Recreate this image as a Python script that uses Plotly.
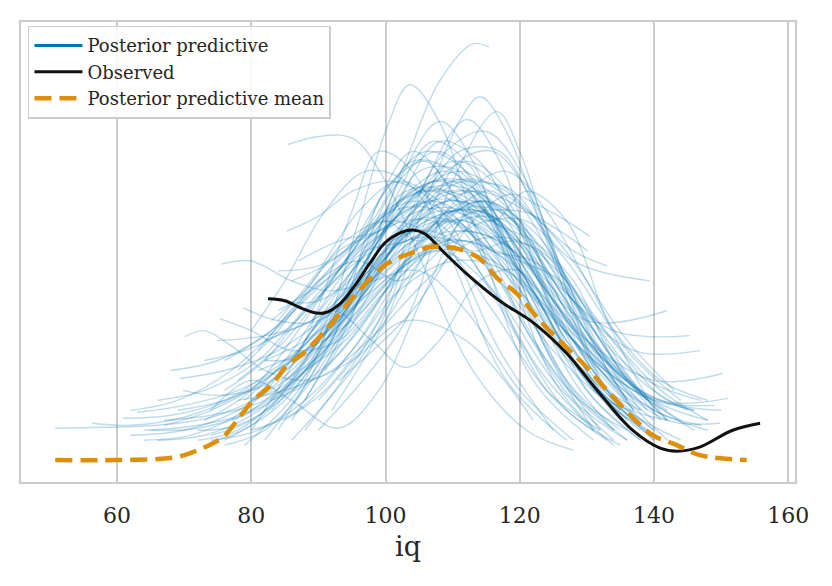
import plotly.graph_objects as go

WIDTH = 832
HEIGHT = 586

BLUE = "#0173B2"
ORANGE = "#DE8F05"
GRID = "#cccccc"
TEXT = "#262626"
FONT = "DejaVu Serif"

# observed KDE (iq, density x 1000)
obs_x = [82.5, 85.0, 87.3, 89.5, 91.0, 93.2, 95.4, 97.7, 99.9, 102.1, 104.1, 105.9,
         108.5, 112.1, 117.0, 122.0, 127.0, 131.9, 136.8, 140.9, 143.4, 146.8, 151.7, 155.8]
obs_y = [16.2, 16.0, 15.3, 14.8, 14.8, 15.7, 17.5, 19.8, 21.8, 22.8, 23.1, 22.7,
         21.0, 18.7, 16.0, 13.8, 10.7, 6.7, 3.0, 1.2, 0.9, 1.3, 3.0, 3.7]

# posterior predictive mean KDE
mean_x = [50.8, 60.0, 68.9, 72.4, 74.3, 75.8, 77.9, 80.3, 83.2, 85.3, 87.7, 91.3, 95.1,
          100.2, 104.7, 106.6, 110.3, 114.1, 116.6, 119.6, 123.0, 127.0, 130.0, 133.0,
          136.8, 139.8, 143.4, 146.8, 153.8]
mean_y = [0.0, 0.0, 0.3, 1.1, 1.7, 2.3, 4.0, 6.0, 7.7, 9.5, 10.7, 13.2, 16.3,
          19.7, 21.0, 21.4, 21.3, 20.2, 18.3, 16.7, 14.0, 11.3, 9.3, 7.0,
          4.3, 2.5, 1.5, 0.5, 0.0]

# posterior predictive draws, one list per draw
pp_x = [
    [76, 85, 95, 103, 108, 113, 115.4],
    [79, 88, 96, 100, 103.6, 108, 114, 122, 131],
    [86, 98, 106, 111, 114.1, 118, 124, 132, 140],
    [90, 103, 110, 116.6, 120, 123, 127, 133, 140],
    [84, 95, 102, 108.1, 113, 119, 126, 134],
    [88, 99, 106, 112.1, 117, 123, 130, 138],
    [85.5, 90, 95.1, 100, 106, 113, 121, 128],
    [80, 88, 95, 99, 104, 110, 118, 127],
    [82, 92, 99, 104, 109, 116, 124, 133],
    [93, 104, 113, 118.5, 123, 127, 130.4],
    [90, 100, 110, 120, 126, 130.1],
    [75.6, 80, 86, 92, 98, 105, 112, 120, 128],
    [70.1, 73, 77, 82, 88, 95, 103, 112, 122],
    [75.3, 80, 86, 93, 100, 108, 116, 125, 134],
    [50.8, 58, 66, 75, 85, 95, 104, 112, 120, 128, 136, 144],
    [56.3, 62, 70, 78, 88, 98, 107, 116, 124, 132, 140, 148],
    [60.9, 68, 76, 85, 95, 104, 112, 120, 130, 140, 150.2],
    [63, 70, 78, 88, 98, 106, 114, 122, 131, 141, 151],
    [69.8, 75, 82, 90, 100, 110, 118, 126, 134, 142, 149.8],
    [69.4, 76, 84, 92, 101, 109, 117, 125, 134, 145.3],
    [72, 78, 86, 95, 104, 112, 120, 128, 137, 146.8],
    [65, 72, 80, 89, 97, 105, 113, 121, 130, 141.9],
    [74, 80, 88, 96, 104, 112, 120, 128, 139.4],
    [78.8, 84, 90, 97, 105, 113, 121, 128, 133],
    [72, 78, 85, 92, 99, 106, 114, 122, 130, 138],
    [76, 82, 89, 96, 103, 110, 117, 125, 133, 141],
    [64, 71, 79, 87, 95, 103, 111, 120, 129, 139],
    [69, 76, 84, 92, 100, 108, 116, 124, 132, 140],
    [82, 88, 95, 102, 110, 118, 126, 134, 142],
    [84, 90, 96, 102, 108, 115, 122, 130, 138],
    [78, 85, 93, 100, 107, 114, 121, 128, 136],
    [62, 69, 77, 85, 93, 100, 108, 116, 124, 132],
    [67, 74, 82, 90, 98, 106, 114, 122, 130, 139],
    [62, 70, 78, 86, 94, 102, 110, 118, 126, 135],
    [80, 86, 92, 98, 103, 108, 114, 120, 127, 135],
    [74, 80, 86, 93, 99, 106, 113, 120, 128, 137],
    [85, 91, 97, 104, 111, 118, 125, 132, 140, 148],
    [88, 94, 100, 107, 114, 121, 128, 135, 142, 150],
    [66, 73, 81, 89, 97, 105, 113, 121, 129, 137],
    [80, 87, 95, 103, 111, 119, 126, 133, 140, 147],
    [76, 83, 90, 97, 104, 111, 118, 126, 134],
    [82, 89, 96, 103, 110, 117, 124, 131, 138, 146],
    [67, 74, 82, 90, 98, 106, 114, 122, 130, 138, 146],
    [75, 81, 88, 95, 102, 109, 116, 123, 131, 139],
    [83, 89, 96, 102, 108, 114, 120, 127, 135],
    [75, 82, 89, 96, 103, 110, 117, 125, 133, 142],
    [83, 89, 96, 103, 110, 117, 124, 131, 139, 147],
    [68, 75, 83, 91, 99, 107, 115, 123, 131],
    [86, 92, 98, 104, 110, 116, 122, 128, 134],
    [64, 72, 80, 88, 96, 104, 112, 120, 128, 137, 146],
    [86, 92, 98, 105, 112, 119, 126, 133, 141],
    [73, 80, 87, 94, 101, 108, 115, 122, 129, 136],
    [81, 88, 95, 102, 109, 116, 123, 131, 140, 149],
    [66, 73, 80, 88, 96, 104, 112, 120, 128, 136],
    [84, 91, 98, 105, 112, 119, 126, 134],
    [89, 95, 101, 107, 113, 119, 125, 131, 137],
    [74, 81, 88, 95, 102, 110, 118, 126, 135, 144],
    [91, 97, 103, 109, 115, 121, 127, 133],
    [78, 85, 92, 99, 106, 113, 120, 127, 134, 141, 148],
    [88, 96, 102, 107, 112, 118, 124, 131],
    [92, 100, 106, 111, 116, 122, 128, 135, 142],
    [86, 94, 100, 105, 111, 117, 124, 132],
    [85.3, 90, 95, 101, 107, 113, 120, 127, 135],
    [80, 85, 91, 97, 103, 110, 117, 125],
    [83, 88, 94, 100, 105, 110, 116, 122, 128, 135],
    [78, 84, 90, 96, 102, 108, 114, 120, 126, 133, 140],
    [86, 92, 98, 104, 110, 116, 122, 128, 134, 141],
    [90, 96, 101, 106, 111, 116, 121, 127, 133, 140],
    [81, 87, 93, 99, 104, 110, 116, 123, 130, 137],
    [84, 90, 96, 102, 108, 114, 120, 127, 134, 142],
    [88, 94, 100, 106, 112, 118, 124, 130, 136, 143],
    [79, 85, 91, 97, 103, 109, 115, 121, 128, 136],
    [93, 99, 105, 111, 117, 123, 129, 136, 144],
    [76, 82, 88, 94, 100, 106, 112, 118, 124, 131, 138],
    [87, 93, 99, 105, 111, 117, 123, 129, 136],
    [82, 88, 95, 101, 107, 113, 119, 125, 131, 138, 145],
    [94, 100, 106, 112, 118, 124, 130, 136],
    [85, 91, 97, 103, 109, 115, 121, 127, 134, 141, 148],
    [73, 79, 85, 91, 97, 103, 109, 115, 121, 128, 136],
    [89, 95, 101, 107, 113, 119, 125, 131, 138],
    [80, 86, 92, 98, 104, 110, 116, 122, 128, 135, 142],
    [91, 97, 103, 109, 115, 121, 127, 133, 139],
    [84, 90, 96, 102, 108, 114, 120, 126, 132, 139],
    [77, 83, 89, 95, 101, 107, 113, 119, 125, 132, 140],
]
pp_y = [
    [2, 6, 17, 30, 38, 41.8, 41.5],
    [1.5, 8, 24, 33, 37.7, 34, 22, 8, 2],
    [2, 12, 26, 34, 36.5, 33, 22, 8, 2],
    [3, 14, 28, 35, 31, 25, 17, 7, 2],
    [3, 16, 28, 34, 30, 18, 7, 1.5],
    [3, 14, 28, 34.2, 30, 18, 7, 2],
    [31.7, 32.5, 32.3, 28, 19, 9, 3, 1],
    [3, 12, 25, 31, 29, 20, 8, 2],
    [2, 12, 26, 31, 28, 18, 7, 2],
    [8, 15, 24, 26.7, 25.5, 24, 22.5],
    [6, 14, 24, 25, 23, 21],
    [19.7, 20, 18, 17, 18, 19, 15, 7, 2],
    [12.4, 13, 11.5, 9, 8, 10, 14, 12, 4],
    [14.2, 13, 11, 12, 17, 21, 17, 8, 2],
    [3.2, 3.3, 3.5, 4.5, 8, 15, 21, 22, 17, 10, 5, 2],
    [3.7, 3.5, 4.3, 6.5, 11, 17, 21, 20, 15, 9, 5, 3],
    [4.2, 4.5, 6, 10, 16, 23, 24, 19, 12, 8, 8.7],
    [4.8, 5.5, 7, 11, 18, 24, 25, 19, 11, 6, 6.2],
    [7, 6.5, 7.5, 12, 19, 25, 23, 15, 8, 4, 3.7],
    [8.2, 9, 11, 15, 21, 26, 24, 18, 13, 12.5],
    [3, 3.5, 7, 15, 24, 28, 24, 16, 11, 11],
    [3, 3.2, 5, 11, 20, 27, 27, 20, 14, 15],
    [2.5, 4, 9, 17, 25, 30, 26, 20, 18],
    [15.3, 14, 14, 18, 24, 27, 25, 21, 19.5],
    [2, 3, 7, 14, 22, 27, 25, 16, 7, 2],
    [1.5, 3, 8, 16, 24, 28, 25, 15, 6, 2],
    [2, 2.5, 5, 11, 19, 25, 26, 19, 9, 3],
    [5, 6, 8.5, 14, 21, 25, 23, 16, 8, 3],
    [10, 10.5, 15, 22, 28, 27, 19, 10, 4],
    [19, 19.5, 22, 26, 28, 25, 17, 8, 3],
    [8, 12, 19, 25, 27, 23, 15, 7, 2],
    [5, 6, 9, 14, 20, 24, 22, 15, 7, 3],
    [3.5, 5, 8, 13, 19, 24, 25, 20, 12, 6],
    [2.5, 3, 5, 9, 15, 21, 24, 19, 11, 5],
    [6, 10, 15, 12, 9.3, 12, 18, 19, 12, 5],
    [5, 8, 6, 3.2, 7, 17, 25, 22, 12, 5],
    [4, 7, 12, 19, 24, 24, 18, 11, 6, 4],
    [9, 12, 17, 23, 26, 23, 17, 11, 6, 5],
    [6, 7, 10, 16, 22, 27, 26, 18, 9, 4],
    [3, 5, 11, 19, 23, 21, 15, 9, 5, 3.5],
    [10, 13, 18, 23, 26, 24, 17, 8, 3],
    [12, 14, 17, 21, 23, 22, 18, 12, 7, 5],
    [4, 4.5, 6, 10, 16, 22, 26, 23, 15, 7, 3],
    [2, 4, 10, 19, 26, 29, 25, 16, 7, 3],
    [5, 10, 20, 28, 31, 27, 18, 8, 3],
    [12, 12.5, 14, 18, 22, 22, 18, 11, 6, 4],
    [6, 8, 13, 20, 25, 25, 20, 13, 8, 6],
    [9, 10, 13, 18, 23, 24, 18, 9, 3],
    [10, 15, 22, 27, 28, 24, 16, 8, 3],
    [3, 3.5, 5, 9, 15, 20, 22, 19, 12, 7, 5],
    [7, 10, 15, 22, 26, 24, 17, 10, 5],
    [4, 7, 13, 20, 25, 25, 20, 12, 6, 3],
    [9, 11, 14, 19, 22, 21, 16, 10, 6, 5.5],
    [2, 2.5, 4.5, 9, 16, 22, 24, 19, 10, 4],
    [15, 18, 22, 25, 25, 21, 13, 5],
    [13, 17, 22, 26, 27, 24, 18, 11, 5],
    [2, 3, 6, 11, 17, 20, 19, 14, 8, 4],
    [12, 17, 23, 26, 25, 20, 13, 7],
    [6, 7, 9, 13, 18, 22, 22, 18, 12, 7, 4],
    [6, 16, 27, 32, 30, 22, 11, 3],
    [5, 14, 24, 30, 31, 26, 16, 7, 2],
    [4, 13, 23, 29, 29, 22, 11, 3],
    [23, 24.5, 27, 28, 26, 20, 12, 5, 1.5],
    [13, 18, 25, 29, 28, 21, 11, 3],
    [14, 17, 22, 24, 22, 25, 27, 20, 10, 4],
    [9, 13, 18, 20, 18, 21, 26, 24, 15, 7, 3],
    [18, 20, 24, 30, 29, 24, 22, 18, 10, 4],
    [16, 22, 28, 30, 26, 24, 27, 24, 14, 5],
    [11, 16, 21, 23, 26, 30, 28, 20, 11, 5],
    [16, 16, 19, 26, 32, 30, 23, 15, 9, 5],
    [12, 17, 21, 23, 27, 29, 25, 18, 12, 7],
    [6, 10, 16, 22, 27, 27, 22, 17, 12, 6],
    [15, 22, 27, 29, 27, 24, 19, 11, 6],
    [7, 10, 15, 19, 22, 26, 27, 22, 14, 8, 5],
    [20, 22, 23, 26, 31, 31, 24, 14, 6],
    [10, 12, 16, 22, 23, 21, 22, 20, 14, 8, 5],
    [20, 27, 31, 29, 23, 17, 12, 8],
    [8, 11, 16, 20, 22, 24, 24, 20, 13, 8, 6],
    [10, 11, 13, 17, 21, 22, 24, 21, 13, 6, 2],
    [14, 19, 24, 28, 28, 27, 21, 12, 5],
    [6, 8, 13, 19, 24, 24, 21, 20, 16, 9, 4],
    [9, 16, 24, 31, 33, 28, 18, 10, 5],
    [14, 19, 25, 28, 26, 22, 20, 18, 12, 6],
    [4, 6, 11, 17, 24, 26, 24, 21, 16, 9, 4],
]

fig = go.Figure()

for xs, ys in zip(pp_x, pp_y):
    fig.add_trace(go.Scatter(
        x=xs, y=ys, mode="lines",
        line=dict(color=BLUE, width=1.4, shape="spline"),
        opacity=0.25, showlegend=False, hoverinfo="skip",
    ))

# legend entry for the draws (drawn at full opacity like matplotlib's legend)
fig.add_trace(go.Scatter(
    x=[None], y=[None], mode="lines", name="Posterior predictive",
    line=dict(color=BLUE, width=3),
))

fig.add_trace(go.Scatter(
    x=obs_x, y=obs_y, mode="lines", name="Observed",
    line=dict(color="#111111", width=3, shape="spline"),
))

fig.add_trace(go.Scatter(
    x=mean_x, y=mean_y, mode="lines", name="Posterior predictive mean",
    line=dict(color=ORANGE, width=4.5, dash="17px,8px", shape="spline"),
))

# the page body adds an 8px offset, margins are set to compensate
fig.update_layout(
    width=WIDTH,
    height=HEIGHT,
    margin=dict(l=13, r=45, t=12, b=112),
    plot_bgcolor="white",
    paper_bgcolor="white",
    font=dict(family=FONT, color=TEXT),
    legend=dict(
        x=0.009, y=0.992, xanchor="left", yanchor="top",
        bgcolor="rgba(255,255,255,0.85)", bordercolor=GRID, borderwidth=1.5,
        font=dict(family=FONT, size=18, color=TEXT),
        itemwidth=48,
    ),
)

fig.update_xaxes(
    range=[45.7, 161.0],
    tickvals=[60, 80, 100, 120, 140, 160],
    showgrid=True, gridcolor=GRID, gridwidth=1.5,
    showline=True, linecolor=GRID, linewidth=1.5, mirror=True,
    zeroline=False, ticks="", ticklabelstandoff=13,
    tickfont=dict(family=FONT, size=22, color=TEXT),
    title=dict(text="iq", font=dict(family=FONT, size=27, color=TEXT), standoff=10),
)
fig.update_yaxes(
    range=[-2.2, 44],
    showgrid=False, showticklabels=False,
    showline=True, linecolor=GRID, linewidth=1.5, mirror=True,
    zeroline=False, ticks="",
)

fig.write_html("out.html")
